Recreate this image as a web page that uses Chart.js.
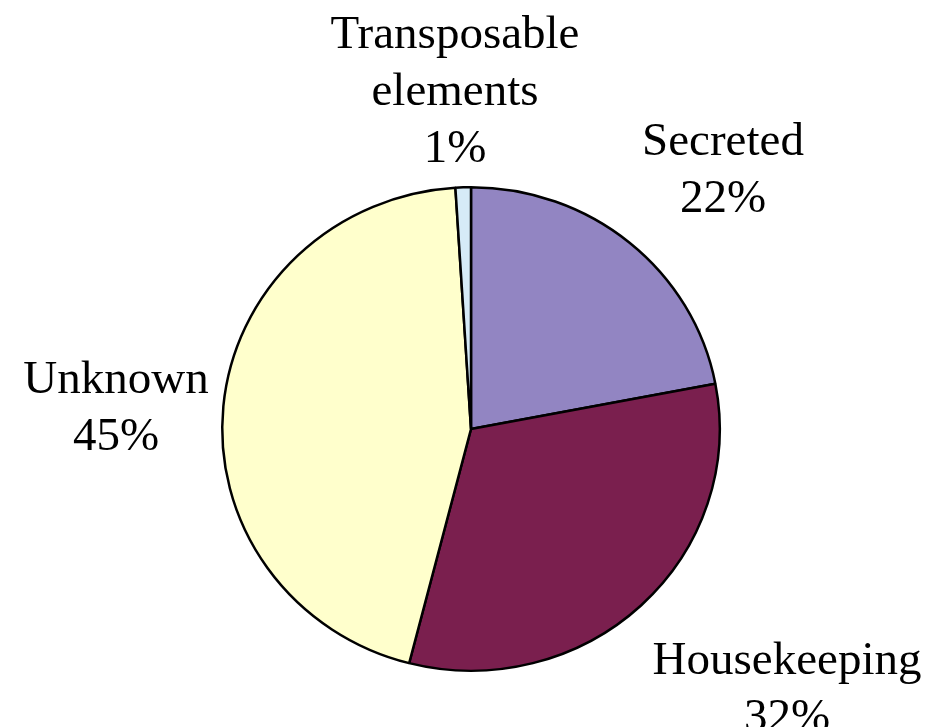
<!DOCTYPE html>
<html>
<head>
<meta charset="utf-8">
<script src="https://cdn.jsdelivr.net/npm/chart.js@4/dist/chart.umd.min.js"></script>
<style>
html,body{margin:0;padding:0;background:#fff;}
#wrap{width:940px;height:727px;position:relative;}
</style>
</head>
<body>
<div id="wrap"><canvas id="c" width="940" height="727"></canvas></div>
<script>
const categories = ["Secreted", "Housekeeping", "Unknown", "Transposable elements"];
const values = [22, 32, 45, 1];
const labelLines = [["Secreted", "22%"], ["Housekeeping", "32%"], ["Unknown", "45%"], ["Transposable", "elements", "1%"]];
const colors = ["#9285C2", "#7A1F4E", "#FFFFCC", "#D6EBF7"];

// label anchor offsets from pie centre (first-line baseline), in pixels
const labelOffsets = [[252, -274], [316, 245], [-355, -36], [-16, -381]];
const verticalSquash = 0.972;

const squashPlugin = {
  id: 'squash',
  beforeDatasetsDraw(chart) {
    const arc = chart.getDatasetMeta(0).data[0];
    const ctx = chart.ctx;
    ctx.save();
    ctx.translate(0, arc.y);
    ctx.scale(1, verticalSquash);
    ctx.translate(0, -arc.y);
  },
  afterDatasetsDraw(chart) {
    chart.ctx.restore();
  }
};

const labelPlugin = {
  id: 'outerLabels',
  afterDraw(chart) {
    const ctx = chart.ctx;
    const meta = chart.getDatasetMeta(0);
    ctx.save();
    ctx.fillStyle = '#000';
    ctx.font = '47px "Liberation Serif", "Times New Roman", serif';
    ctx.textAlign = 'center';
    ctx.textBaseline = 'alphabetic';
    meta.data.forEach((arc, i) => {
      const cx = arc.x, cy = arc.y;
      const off = labelOffsets[i];
      labelLines[i].forEach((t, j) => {
        ctx.fillText(t, cx + off[0], cy + off[1] + j * 57);
      });
    });
    ctx.restore();
  }
};

new Chart(document.getElementById('c'), {
  type: 'pie',
  data: {
    labels: categories,
    datasets: [{
      data: values,
      backgroundColor: colors,
      borderColor: '#000',
      borderWidth: 2.5
    }]
  },
  options: {
    responsive: false,
    animation: false,
    layout: { padding: { left: 221, right: 219, top: 179, bottom: 48 } },
    plugins: { legend: { display: false }, tooltip: { enabled: false } }
  },
  plugins: [squashPlugin, labelPlugin]
});
</script>
</body>
</html>
